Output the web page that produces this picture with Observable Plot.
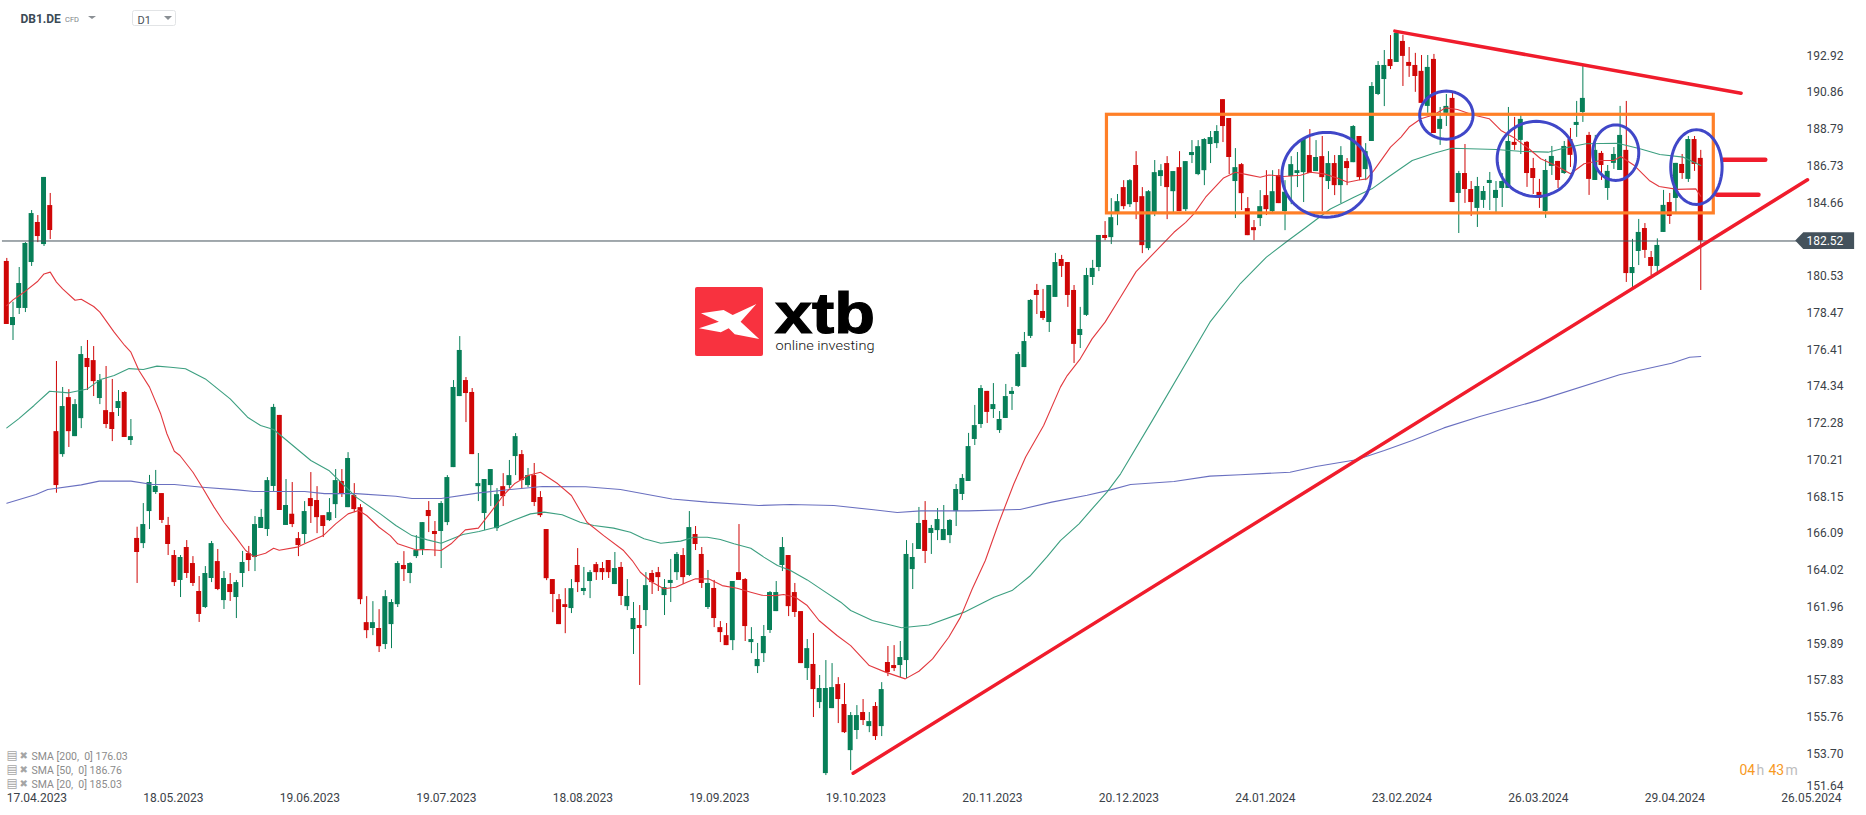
<!DOCTYPE html>
<html>
<head>
<meta charset="utf-8">
<style>html,body{margin:0;padding:0;background:#fff}svg{display:block}</style>
<script src="https://cdn.jsdelivr.net/npm/d3@7"></script>
<script src="https://cdn.jsdelivr.net/npm/@observablehq/plot@0.6"></script>
</head>
<body>
<div id="chart"></div>
<script>
const opens = [
181.37,177.77,178.73,178.73,181.31,183.56,182.32,184.51,171.81,170.52,
173.72,171.53,172.54,175.92,175.80,173.67,172.99,172.88,173.11,174.01,
171.31,165.81,165.52,167.32,168.39,168.33,166.54,164.85,163.45,165.30,
164.40,162.83,161.93,163.56,164.51,162.32,163.22,162.49,163.84,164.96,
164.74,166.37,166.31,168.73,172.72,166.54,167.17,165.80,166.03,168.05,
167.94,167.09,166.81,167.71,169.01,167.54,168.22,167.54,161.08,160.75,
160.75,159.85,160.97,162.09,164.29,163.84,164.79,165.18,167.38,166.20,
166.20,166.70,169.79,173.78,174.68,174.01,168.72,167.21,168.78,166.36,
168.72,168.78,170.41,170.52,168.78,169.34,168.11,166.31,163.50,162.37,
162.09,161.87,164.29,162.83,163.39,164.34,164.12,164.57,163.22,164.18,
161.98,160.69,160.92,161.76,163.84,163.89,162.60,163.28,163.89,164.85,
163.73,166.03,164.91,161.93,163.00,160.80,160.35,160.07,163.89,163.50,
159.96,158.61,159.34,160.64,161.70,164.29,164.85,162.77,161.70,158.50,
158.73,156.59,152.60,156.25,157.60,156.48,153.89,155.02,156.03,155.24,
156.37,155.24,158.84,158.67,158.67,158.95,164.06,165.19,166.82,166.09,
166.25,165.69,165.97,167.32,168.28,169.01,171.37,172.21,174.07,173.05,
171.87,172.55,173.90,174.35,175.41,177.16,179.74,178.56,177.94,179.35,
181.48,181.31,179.74,177.21,178.34,180.47,181.03,182.83,182.71,184.11,
185.52,184.56,186.76,185.01,182.09,184.11,186.14,186.87,185.29,186.64,
184.28,187.32,186.25,186.47,187.94,187.99,190.46,189.40,185.86,186.81,
184.34,183.27,183.78,185.07,184.17,186.19,184.17,186.14,186.31,186.36,
187.32,186.42,187.26,185.86,186.87,185.63,186.98,186.92,188.39,186.53,
188.11,190.75,191.59,192.71,192.55,193.73,192.55,192.38,192.05,190.08,
192.72,188.79,189.69,190.53,185.19,186.31,185.41,184.35,184.80,185.75,
184.91,185.47,185.47,188.06,188.17,188.06,186.59,185.25,184.18,186.71,
186.99,186.31,188.22,189.01,189.74,188.45,185.92,187.44,185.47,186.88,
186.48,187.61,180.69,181.93,183.22,181.59,181.09,183.00,184.68,184.91,
186.82,185.98,188.22,187.16];
const closes = [
177.83,178.22,180.13,182.38,184.06,182.77,186.09,183.11,168.78,173.22,
171.81,173.33,176.14,175.41,174.62,174.68,172.21,171.93,173.50,171.48,
171.53,165.02,166.59,168.95,168.73,166.82,165.47,163.33,164.74,163.84,
163.28,161.54,163.84,165.52,162.94,163.56,162.77,163.33,164.46,164.57,
166.59,166.99,169.06,173.17,167.38,167.66,166.59,165.41,167.32,167.60,
166.98,166.48,167.26,169.06,168.33,170.30,167.43,162.37,160.63,161.08,
159.73,162.54,162.21,164.40,164.06,164.40,165.13,166.70,167.04,166.03,
167.77,169.23,174.29,176.37,173.95,170.52,168.89,169.12,169.68,168.27,
168.16,169.34,171.53,169.06,169.34,167.83,167.09,163.55,162.66,160.97,
161.93,162.99,163.33,163.00,163.89,163.89,163.89,163.89,164.12,162.55,
162.55,161.31,160.75,163.16,163.33,163.61,163.05,163.45,164.91,163.61,
166.42,165.47,163.28,163.28,161.31,160.52,159.79,163.39,163.45,160.86,
160.13,159.01,160.30,162.77,162.77,165.30,161.98,161.65,158.78,159.62,
157.32,157.38,157.38,157.43,156.76,154.90,155.86,155.86,155.58,155.52,
154.68,157.32,158.28,158.50,159.12,164.91,164.74,166.65,165.08,166.37,
166.87,166.31,166.82,168.56,169.18,170.97,172.15,174.23,172.89,173.33,
172.49,173.78,174.07,176.14,176.87,179.18,179.46,178.17,180.02,181.31,
181.09,179.46,176.71,177.55,180.58,180.98,182.83,182.66,183.83,184.73,
184.45,185.91,184.68,182.26,185.29,186.36,186.47,185.52,186.42,184.17,
186.98,187.49,187.82,188.22,188.33,188.67,188.95,187.21,186.64,185.18,
182.82,183.10,184.45,184.28,185.29,184.62,185.26,186.81,186.47,188.22,
186.31,187.21,186.08,186.87,185.63,187.32,186.59,188.95,186.08,187.54,
191.20,192.38,192.38,192.32,194.18,192.89,192.33,191.76,190.25,192.27,
188.56,189.35,190.08,184.68,186.31,185.41,184.68,185.58,185.30,185.92,
185.36,185.86,188.11,187.89,189.35,186.31,186.03,184.91,186.48,187.27,
185.92,187.83,187.33,189.18,190.53,185.98,187.61,186.76,186.43,187.38,
188.45,180.69,181.03,183.00,181.99,181.09,182.27,184.52,183.90,186.88,
186.31,188.22,186.82,182.52];
const highs = [
181.54,179.08,181.03,182.43,184.23,183.95,186.09,185.19,175.75,174.29,
174.17,173.61,176.59,176.93,176.59,175.02,175.47,174.74,174.12,174.06,
172.49,166.44,167.77,169.35,169.63,168.33,166.99,165.13,164.85,165.69,
164.79,163.67,164.23,165.64,165.19,163.95,163.84,163.45,165.08,165.36,
167.04,167.44,169.23,173.34,172.72,169.12,168.95,166.14,167.88,169.51,
168.72,167.09,168.05,169.68,169.68,170.63,168.89,167.71,162.54,162.26,
161.81,162.88,162.37,164.51,165.07,164.45,165.97,166.70,167.88,166.76,
167.88,169.34,174.68,177.15,174.85,174.23,170.58,169.12,169.68,168.61,
169.45,170.19,171.70,170.75,169.74,170.02,168.44,166.31,163.50,162.66,
162.99,163.50,165.24,164.18,164.01,164.46,164.46,164.57,165.02,164.46,
163.50,162.21,162.04,163.89,164.01,164.18,163.50,164.63,165.02,165.24,
167.32,166.48,165.30,164.01,163.45,161.14,161.03,163.39,166.59,163.56,
160.80,159.91,160.92,162.83,163.39,165.86,164.85,163.28,161.70,160.13,
160.47,158.11,158.95,158.78,157.99,157.66,156.03,156.42,156.76,156.03,
156.59,157.71,159.74,159.79,160.02,165.69,165.52,167.55,167.88,166.54,
167.49,167.66,166.87,168.84,169.40,171.71,173.28,174.40,174.07,174.51,
172.94,174.46,174.29,176.26,177.38,179.23,180.08,179.80,180.02,181.82,
181.71,181.31,180.02,178.79,180.98,181.43,182.83,183.61,184.90,185.13,
185.91,185.97,187.54,185.52,185.35,187.04,186.81,187.26,186.42,187.54,
186.98,188.16,188.16,188.27,188.67,189.00,190.46,189.40,187.71,186.87,
184.96,183.67,185.35,186.47,186.47,186.53,185.91,187.26,187.49,188.22,
188.78,188.16,188.39,187.54,187.32,187.82,187.15,189.00,188.39,187.99,
191.42,192.60,193.22,194.06,194.23,194.07,193.39,193.06,192.94,192.94,
193.00,190.02,190.75,190.92,186.43,187.94,185.86,186.09,185.58,186.37,
185.86,186.31,190.02,189.46,189.57,188.11,187.16,185.98,187.10,187.83,
186.99,188.11,188.84,190.36,192.38,188.62,188.45,187.55,186.76,187.77,
190.08,190.36,182.61,183.73,183.50,181.93,182.64,185.36,185.19,186.88,
187.38,188.39,188.39,187.61];
const lows = [
177.83,176.93,178.39,178.50,181.09,182.43,182.21,182.60,168.35,170.37,
170.92,171.53,171.98,174.12,173.78,173.33,171.98,171.25,172.66,171.48,
171.03,163.28,165.24,166.31,168.28,166.65,164.85,163.11,162.49,163.56,
163.11,161.09,161.87,163.33,162.88,161.82,162.27,161.31,163.05,163.95,
163.95,166.37,165.92,168.39,167.38,166.54,166.42,164.79,165.52,166.65,
166.08,165.86,166.76,166.93,168.11,167.54,167.26,162.09,160.18,160.35,
159.40,159.57,159.62,161.93,163.39,163.27,164.68,164.85,166.14,164.79,
164.12,166.53,169.79,173.78,172.32,170.52,167.88,166.25,167.60,166.20,
167.60,168.61,169.34,168.61,168.67,167.60,166.98,163.44,161.64,160.97,
160.46,161.59,162.77,162.60,162.43,163.45,163.45,163.56,163.22,162.04,
161.76,159.29,157.55,160.86,162.66,162.83,161.48,162.21,163.45,163.22,
163.67,165.13,163.00,161.82,160.80,159.96,159.79,159.51,163.45,160.02,
159.34,158.22,158.84,160.47,161.70,163.95,161.42,161.37,158.78,157.83,
155.75,156.25,152.49,156.25,155.41,154.85,152.77,154.51,155.30,154.90,
154.46,154.68,158.05,158.33,158.00,157.94,162.94,165.19,164.40,164.91,
165.69,165.69,165.52,166.48,167.94,169.01,171.03,171.99,172.27,172.55,
171.71,172.55,173.00,174.29,175.41,177.04,178.39,178.05,177.38,179.35,
180.47,178.79,175.64,176.48,178.28,180.02,180.80,182.54,182.32,183.38,
184.28,184.40,183.72,181.81,181.98,183.89,185.58,183.72,184.11,184.17,
184.17,186.87,186.19,185.63,186.87,187.71,188.05,186.25,183.78,184.23,
182.82,182.54,183.33,183.95,184.11,184.62,183.10,184.56,185.52,184.68,
186.31,186.42,184.17,185.41,185.07,184.62,185.63,186.92,185.91,185.91,
188.11,190.69,190.07,192.15,192.55,191.20,191.71,190.87,190.25,189.69,
188.56,187.89,188.95,184.68,182.94,184.63,183.90,183.28,184.35,184.23,
184.12,184.40,185.47,187.61,187.38,185.53,185.13,184.35,183.79,186.20,
185.47,186.26,186.65,188.34,189.18,185.08,185.92,185.92,184.80,186.54,
186.48,180.19,179.91,181.14,181.54,180.58,180.58,183.00,183.45,184.12,
185.98,185.81,186.43,179.74];

const sma20Bars = [0,1,3,5,6,7,8,9,11,12,14,15,17.3,19,20,21.3,23,24.8,25.8,27,27.9,30,31.5,33.4,35,36.9,38.5,39.8,41.7,43,43.9,46.8,48,51,53,55,56.7,58,60,61.8,63,65.9,67.8,70,71.6,73.9,76,78,80,81.8,84,86,88.8,91,93.5,96.2,99.4,100.8,102.1,104,105.9,107.8,109.6,111,113.1,115.3,117.7,119.9,121.7,123.9,125.2,127.1,129,130.9,133.8,136,139,141.6,144.8,147,149.2,151.8,153.7,155.6,157.7,159.9,162.3,164.2,167.1,169.8,170.9,173,174.9,177,179.5,182,188.1,190,191.3,193.2,196.1,198,199.9,202,203.4,205.8,208.5,210.1,212.3,214.4,216.1,217.9,219.2,220.3,223,224.7,226,227.9,230,231.9,233.8,236.2,238.9,240.8,243,245.3,247.2,249.6,252,254.2,256.9,259,260.1,262.3,264.7,266.3,269.2,272.2,273];
const sma20Vals = [178.89,179.21,179.70,180.26,180.67,180.77,180.21,179.83,179.19,179.25,178.84,178.52,177.40,176.65,176.27,175.24,174.31,172.81,171.69,170.71,170.47,169.53,168.69,167.57,166.72,165.88,165.13,164.79,164.98,165.26,165.15,165.32,165.51,165.97,166.63,167.19,167.38,167.10,166.44,165.97,165.51,165.17,165.19,165.13,165.51,166.29,166.39,167.29,168.22,168.88,169.35,169.53,168.88,168.22,166.72,165.97,165.13,164.57,163.91,163.35,162.98,163.07,163.35,163.54,163.54,163.16,163.01,162.79,162.62,162.60,162.66,162.51,162.04,161.20,160.36,159.79,158.67,158.30,157.92,158.35,159.04,160.26,161.39,162.98,164.57,166.72,168.88,170.38,172.16,174.31,174.96,175.90,177.02,177.96,179.37,180.80,183.01,183.57,184.04,184.98,186.06,186.38,186.25,186.10,186.23,186.14,186.21,186.38,186.29,186.06,185.82,185.95,186.01,186.47,187.79,188.36,188.92,189.39,189.61,190.00,189.91,189.61,189.39,188.73,188.30,187.70,187.14,186.76,186.30,186.86,187.04,187.04,187.27,186.76,185.92,185.58,185.42,185.45,185.03];
const sma50Bars = [0,1.9,4.4,6.9,10,13,15,17.3,19.7,22,24.2,26.4,28.8,32,36,38.8,40.9,43,46.1,49,51.9,54.4,56.3,60.2,62.7,65.3,67.8,70,73.5,76.1,79.3,81.8,84.4,86.6,89.5,92.4,94.6,97.8,100.5,102.7,105.4,108.6,110.7,112.9,115,117.2,119.9,122,124.2,126.3,129,131.7,134.4,136,139.5,144.2,148.6,154.3,159.1,162,165,167.7,169.8,172.8,174.9,177.3,179.5,184.6,193.9,198.8,203,206.5,209.4,213.3,217.1,220,222.6,226.5,230,232.9,235.8,240,243.8,248.4,250.9,254.5,259.6,263.2,266.4,270.2,273];
const sma50Vals = [172.02,172.53,173.28,174.08,173.99,174.21,174.72,174.96,175.35,175.30,175.49,175.43,175.34,174.77,173.65,172.62,172.15,171.93,171.03,170.19,169.63,168.78,168.13,167.19,166.54,165.97,165.73,165.54,166.03,166.20,166.48,166.85,167.19,167.29,167.14,166.72,166.54,166.39,166.16,165.79,165.54,165.66,165.88,165.88,165.75,165.51,165.26,164.76,164.29,164.01,163.48,162.85,162.23,161.76,161.20,160.79,160.95,161.67,162.51,162.88,163.73,164.80,165.69,166.63,167.47,168.41,169.44,172.43,177.96,180.13,181.61,182.55,183.29,184.32,184.98,185.45,186.10,187.04,187.45,187.73,187.70,187.66,187.56,187.51,187.73,187.98,188.01,187.70,187.38,187.23,186.76];
const sma200Bars = [0,4.7,6.6,12,14.9,20,23.5,27,31.5,37.2,39.8,48,51.2,56.3,62.7,65.3,70,76.1,81.2,86.3,93.3,98.9,107.2,112.9,121.2,126.3,133.3,139.7,143.5,147.3,155,163.3,168.4,174.1,177.9,181.1,188.1,193.9,198.8,206.8,211,217.5,222,226.5,231.6,237.4,241.3,247,259.9,268.3,271.2,273];
const sma200Vals = [167.79,168.28,168.56,168.82,169.03,169.03,168.84,168.84,168.69,168.54,168.45,168.45,168.33,168.33,168.18,168.05,168.05,168.37,168.56,168.73,168.71,168.56,168.03,167.85,167.66,167.72,167.66,167.42,167.27,167.36,167.36,167.44,167.85,168.24,168.54,168.84,169.01,169.31,169.39,169.53,169.85,170.23,170.75,171.31,172.02,172.66,173.04,173.58,175.01,175.65,175.99,176.03];

const priceTicks = [192.92,190.86,188.79,186.73,184.66,180.53,178.47,176.41,174.34,172.28,170.21,168.15,166.09,164.02,161.96,159.89,157.83,155.76,153.70];
const lowestPriceLabel = "151.64";
const lastPrice = 182.52;
const dateBars = [5,27,49,71,93,115,137,159,181,203,225,247,269,291];
const dateLabels = ["17.04.2023","18.05.2023","19.06.2023","19.07.2023","18.08.2023","19.09.2023","19.10.2023","20.11.2023","20.12.2023","24.01.2024","23.02.2024","26.03.2024","29.04.2024","26.05.2024"];
const legendLabels = ["SMA [200,  0] 176.03","SMA [50,  0] 186.76","SMA [20,  0] 185.03"];

const boxBars = [177.3,275.1];
const boxPrices = [184.07,189.61];
const risingBars = [136.4,290.2], risingPrices = [152.62,185.96];
const fallingBars = [223.7,279.5], fallingPrices = [194.31,190.82];
const stubUpperBars = [276.5,283.4], stubUpperPrice = 187.08;
const stubLowerBars = [275.6,282.3], stubLowerPrice = 185.12;
const ringBars = [212.7,232,246.5,259.3,272.3];
const ringPrices = [186.24,189.59,187.13,187.48,186.67];
const ringBarRadius = [7.2,4.3,6.32,3.71,4.14];
const ringPriceRadius = [2.38,1.35,2.11,1.56,2.10];

const GREEN = "#077f58", RED = "#cf0606";
const SMA20C = "#e2393f", SMA50C = "#3c9f80", SMA200C = "#6a70c0";
const AXISC = "#3b4248";

const bars = opens.map((o,i)=>({i,o,h:highs[i],l:lows[i],c:closes[i],col:closes[i]>=o?GREEN:RED}));
const zip = (xs,ys)=>xs.map((x,k)=>({x,y:ys[k]}));
const ringPts = ringBars.flatMap((cx,k)=>d3.range(0,73).map(a=>({
  k, x:cx+ringBarRadius[k]*Math.cos(a/36*Math.PI), y:ringPrices[k]+ringPriceRadius[k]*Math.sin(a/36*Math.PI)})));

const txt = (s,o)=>Plot.text([s],{text:d=>d,fontFamily:"Roboto, sans-serif",...o});

function decorations(){
  const g = d3.create("svg:g").attr("text-anchor","start");
  g.append("path").attr("d","M88 16h8l-4 3z").attr("fill","#8a8f94");
  g.append("rect").attr("x",132.5).attr("y",10.5).attr("width",43).attr("height",15).attr("rx",2).attr("fill","#fff").attr("stroke","#e2e4e6");
  g.append("path").attr("d","M164 16h8l-4 4z").attr("fill","#8a8f94");
  g.append("text").attr("x",137.5).attr("y",24).attr("font-family","Roboto, sans-serif").attr("font-size",11).attr("fill","#4a5157").text("D1");
  const L = g.append("g");
  L.append("rect").attr("x",695).attr("y",287).attr("width",68).attr("height",69).attr("rx",2).attr("fill","#f8323f");
  L.append("path").attr("fill","#fff").attr("d","M701 313.3L723.6 310L732.7 315L756.4 304L740.6 321.7L759.2 339L734.7 334.3L728.7 328.3L720.8 332.3L699 328.3L718.9 321.7Z");
  L.append("text").attr("x",775).attr("y",333).attr("font-family","'Liberation Sans', Arial, sans-serif").attr("font-weight",700).attr("font-size",58).attr("textLength",100).attr("lengthAdjust","spacingAndGlyphs").attr("stroke","#000").attr("stroke-width",1.2).attr("fill","#000").text("xtb");
  L.append("text").attr("x",775.5).attr("y",350).attr("font-family","Roboto, sans-serif").attr("font-weight",300).attr("font-size",13.5).attr("textLength",99).attr("lengthAdjust","spacingAndGlyphs").attr("fill","#111").text("online investing");
  return g.node();
}

const chart = Plot.plot({
  width:1866, height:815,
  marginLeft:0, marginRight:60, marginTop:0, marginBottom:25,
  x:{domain:[-1.015,290.04], axis:null},
  y:{domain:[151.65,196.03], axis:null},
  style:{background:"#fff", fontFamily:"Roboto, sans-serif"},
  marks:[
    Plot.ruleX(bars,{x:"i",y1:"l",y2:"h",stroke:"col",strokeWidth:1}),
    Plot.rect(bars,{x1:d=>d.i-0.4,x2:d=>d.i+0.4,y1:"o",y2:"c",fill:"col"}),
    Plot.line(zip(sma200Bars,sma200Vals),{x:"x",y:"y",stroke:SMA200C,strokeWidth:1.1}),
    Plot.line(zip(sma50Bars,sma50Vals),{x:"x",y:"y",stroke:SMA50C,strokeWidth:1.1}),
    Plot.line(zip(sma20Bars,sma20Vals),{x:"x",y:"y",stroke:SMA20C,strokeWidth:1.1}),
    Plot.ruleY([lastPrice],{x1:[-0.7],x2:[289],stroke:"#44525c",strokeWidth:1}),
    Plot.rect([0],{x1:[boxBars[0]],x2:[boxBars[1]],y1:[boxPrices[0]],y2:[boxPrices[1]],fill:"none",stroke:"#ff7f27",strokeWidth:3.2}),
    Plot.line(zip(risingBars,risingPrices),{x:"x",y:"y",stroke:"#f01c2c",strokeWidth:3.5}),
    Plot.line(zip(fallingBars,fallingPrices),{x:"x",y:"y",stroke:"#f01c2c",strokeWidth:3.5}),
    Plot.line(zip(stubUpperBars,[stubUpperPrice,stubUpperPrice]),{x:"x",y:"y",stroke:"#f01c2c",strokeWidth:4.5}),
    Plot.line(zip(stubLowerBars,[stubLowerPrice,stubLowerPrice]),{x:"x",y:"y",stroke:"#f01c2c",strokeWidth:4.5}),
    Plot.line(ringPts,{x:"x",y:"y",z:"k",stroke:"#4047c8",strokeWidth:3}),

    Plot.axisY(priceTicks,{anchor:"right",tickSize:0,tickPadding:0,tickFormat:d=>d.toFixed(2),fontSize:12,fill:AXISC,label:null}),
    txt(lowestPriceLabel,{frameAnchor:"bottom-right",textAnchor:"start",lineAnchor:"middle",dy:-4,fontSize:12,fill:AXISC}),
    Plot.axisX(dateBars,{anchor:"bottom",tickSize:0,tickPadding:3,tickFormat:d=>dateLabels[dateBars.indexOf(d)],fontSize:12,fill:AXISC,dx:-1,label:null}),

    Plot.areaY([{x:288.3,a:lastPrice,b:lastPrice},{x:289.6,a:182.04,b:182.98},{x:297.8,a:182.04,b:182.98}],{x:"x",y1:"a",y2:"b",fill:"#44525c"}),
    Plot.text([lastPrice],{x:[293],y:[lastPrice],text:d=>d.toFixed(2),fill:"#fff",fontSize:12,textAnchor:"middle",fontFamily:"Roboto, sans-serif"}),

    txt("DB1.DE",{frameAnchor:"top-left",textAnchor:"start",lineAnchor:"middle",dx:20,dy:19,fontSize:12,fontWeight:700,fill:"#3b4a55"}),
    txt("CFD",{frameAnchor:"top-left",textAnchor:"start",lineAnchor:"middle",dx:64.5,dy:19,fontSize:7.5,fill:"#7c8287"}),
    ...legendLabels.flatMap((s,k)=>{
      const dy = -34+14*k;
      return [
        txt("▤",{frameAnchor:"bottom-left",textAnchor:"start",lineAnchor:"middle",dx:6,dy:dy-1,fontSize:12,fontFamily:"DejaVu Sans",fill:"#a5a5a5"}),
        txt("✖",{frameAnchor:"bottom-left",textAnchor:"start",lineAnchor:"middle",dx:19,dy:dy-1,fontSize:10,fontFamily:"DejaVu Sans",fill:"#a5a5a5"}),
        txt(s,{frameAnchor:"bottom-left",textAnchor:"start",lineAnchor:"middle",dx:31,dy,fontSize:10.5,fill:"#8b8b8b"})
      ];
    }),
    txt("04",{frameAnchor:"bottom-right",textAnchor:"start",lineAnchor:"middle",dx:-67,dy:-20,fontSize:14,fill:"#f79a1f"}),
    txt("h",{frameAnchor:"bottom-right",textAnchor:"start",lineAnchor:"middle",dx:-50,dy:-20,fontSize:14,fill:"#bdbdbd"}),
    txt("43",{frameAnchor:"bottom-right",textAnchor:"start",lineAnchor:"middle",dx:-38,dy:-20,fontSize:14,fill:"#f79a1f"}),
    txt("m",{frameAnchor:"bottom-right",textAnchor:"start",lineAnchor:"middle",dx:-21,dy:-20,fontSize:14,fill:"#bdbdbd"}),
    decorations
  ]
});
document.getElementById("chart").appendChild(chart);
</script>
</body>
</html>
